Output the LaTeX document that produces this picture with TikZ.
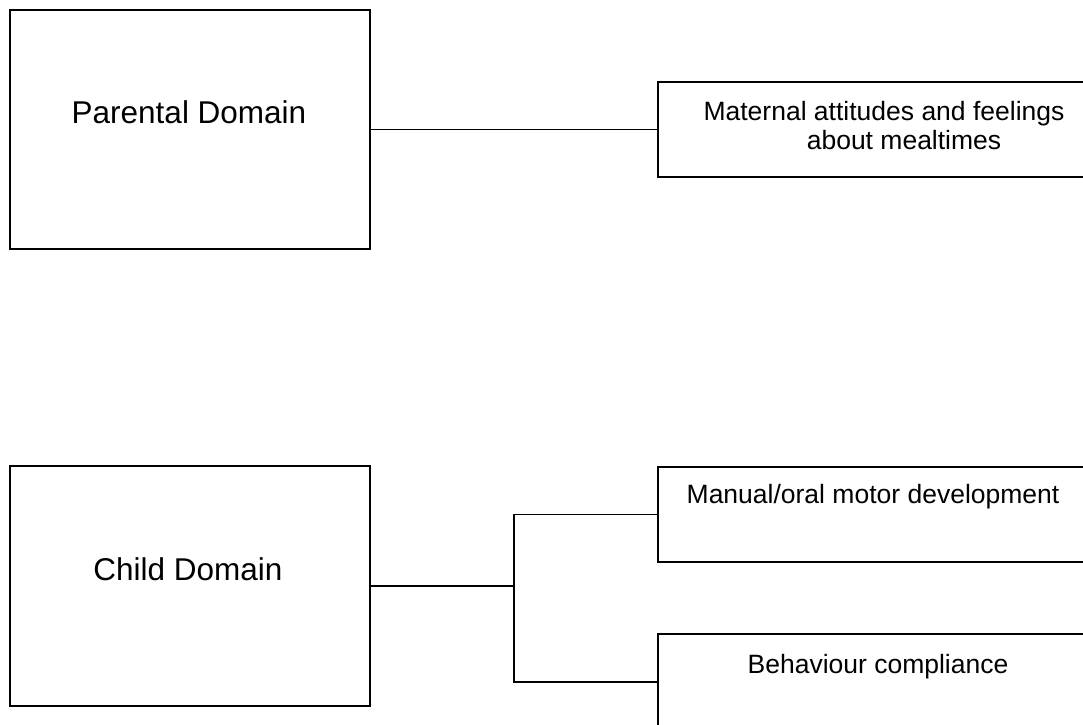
\documentclass[tikz,border=0pt]{standalone}
\usepackage{fontspec}
\setmainfont{Liberation Sans}
\begin{document}
\begin{tikzpicture}[x=1pt,y=-1pt,
  box/.style={draw=black,line width=1.6pt,fill=none,inner sep=0pt,outer sep=0pt},
  bigbox/.style={box,minimum width=360pt,minimum height=239.5pt},
  smallbox/.style={box,minimum width=460pt,minimum height=95.5pt},
  bigtxt/.style={font=\fontsize{31.5}{34}\selectfont,inner sep=0pt,anchor=base},
  smalltxt/.style={font=\fontsize{26.5}{29}\selectfont,inner sep=0pt,anchor=base},
  link/.style={line width=1.6pt,black}]
\useasboundingbox (0,0) rectangle (1083,724);
\clip (0,0) rectangle (1083,724);
% boxes
\node[bigbox] (pd) at (190,129.5) {};
\node[bigbox] (cd) at (190,586) {};
\node[smallbox] (mat) at (888,129.5) {};
\node[smallbox] (mm) at (888,514.5) {};
\node[smallbox] (bc) at (888,682) {};
% texts
\node[bigtxt] (pdt) at (189,123) {Parental Domain};
\node[bigtxt] (cdt) at (188,580.5) {Child Domain};
\node[smalltxt,anchor=north,align=center] (matt) at (884,101) {Maternal attitudes and feelings\\\hspace*{40pt}about mealtimes};
\node[smalltxt] (mmt) at (873,503) {Manual/oral motor development};
\node[smalltxt] (bct) at (878,673) {Behaviour compliance};
% connectors
\coordinate (jx) at (514,586);
\draw[link] (pd.east) -- (mat.west);
\draw[link] (cd.east) -- (jx);
\draw[link] (mm.west) -| (jx) |- (bc.west);
\end{tikzpicture}
\end{document}
